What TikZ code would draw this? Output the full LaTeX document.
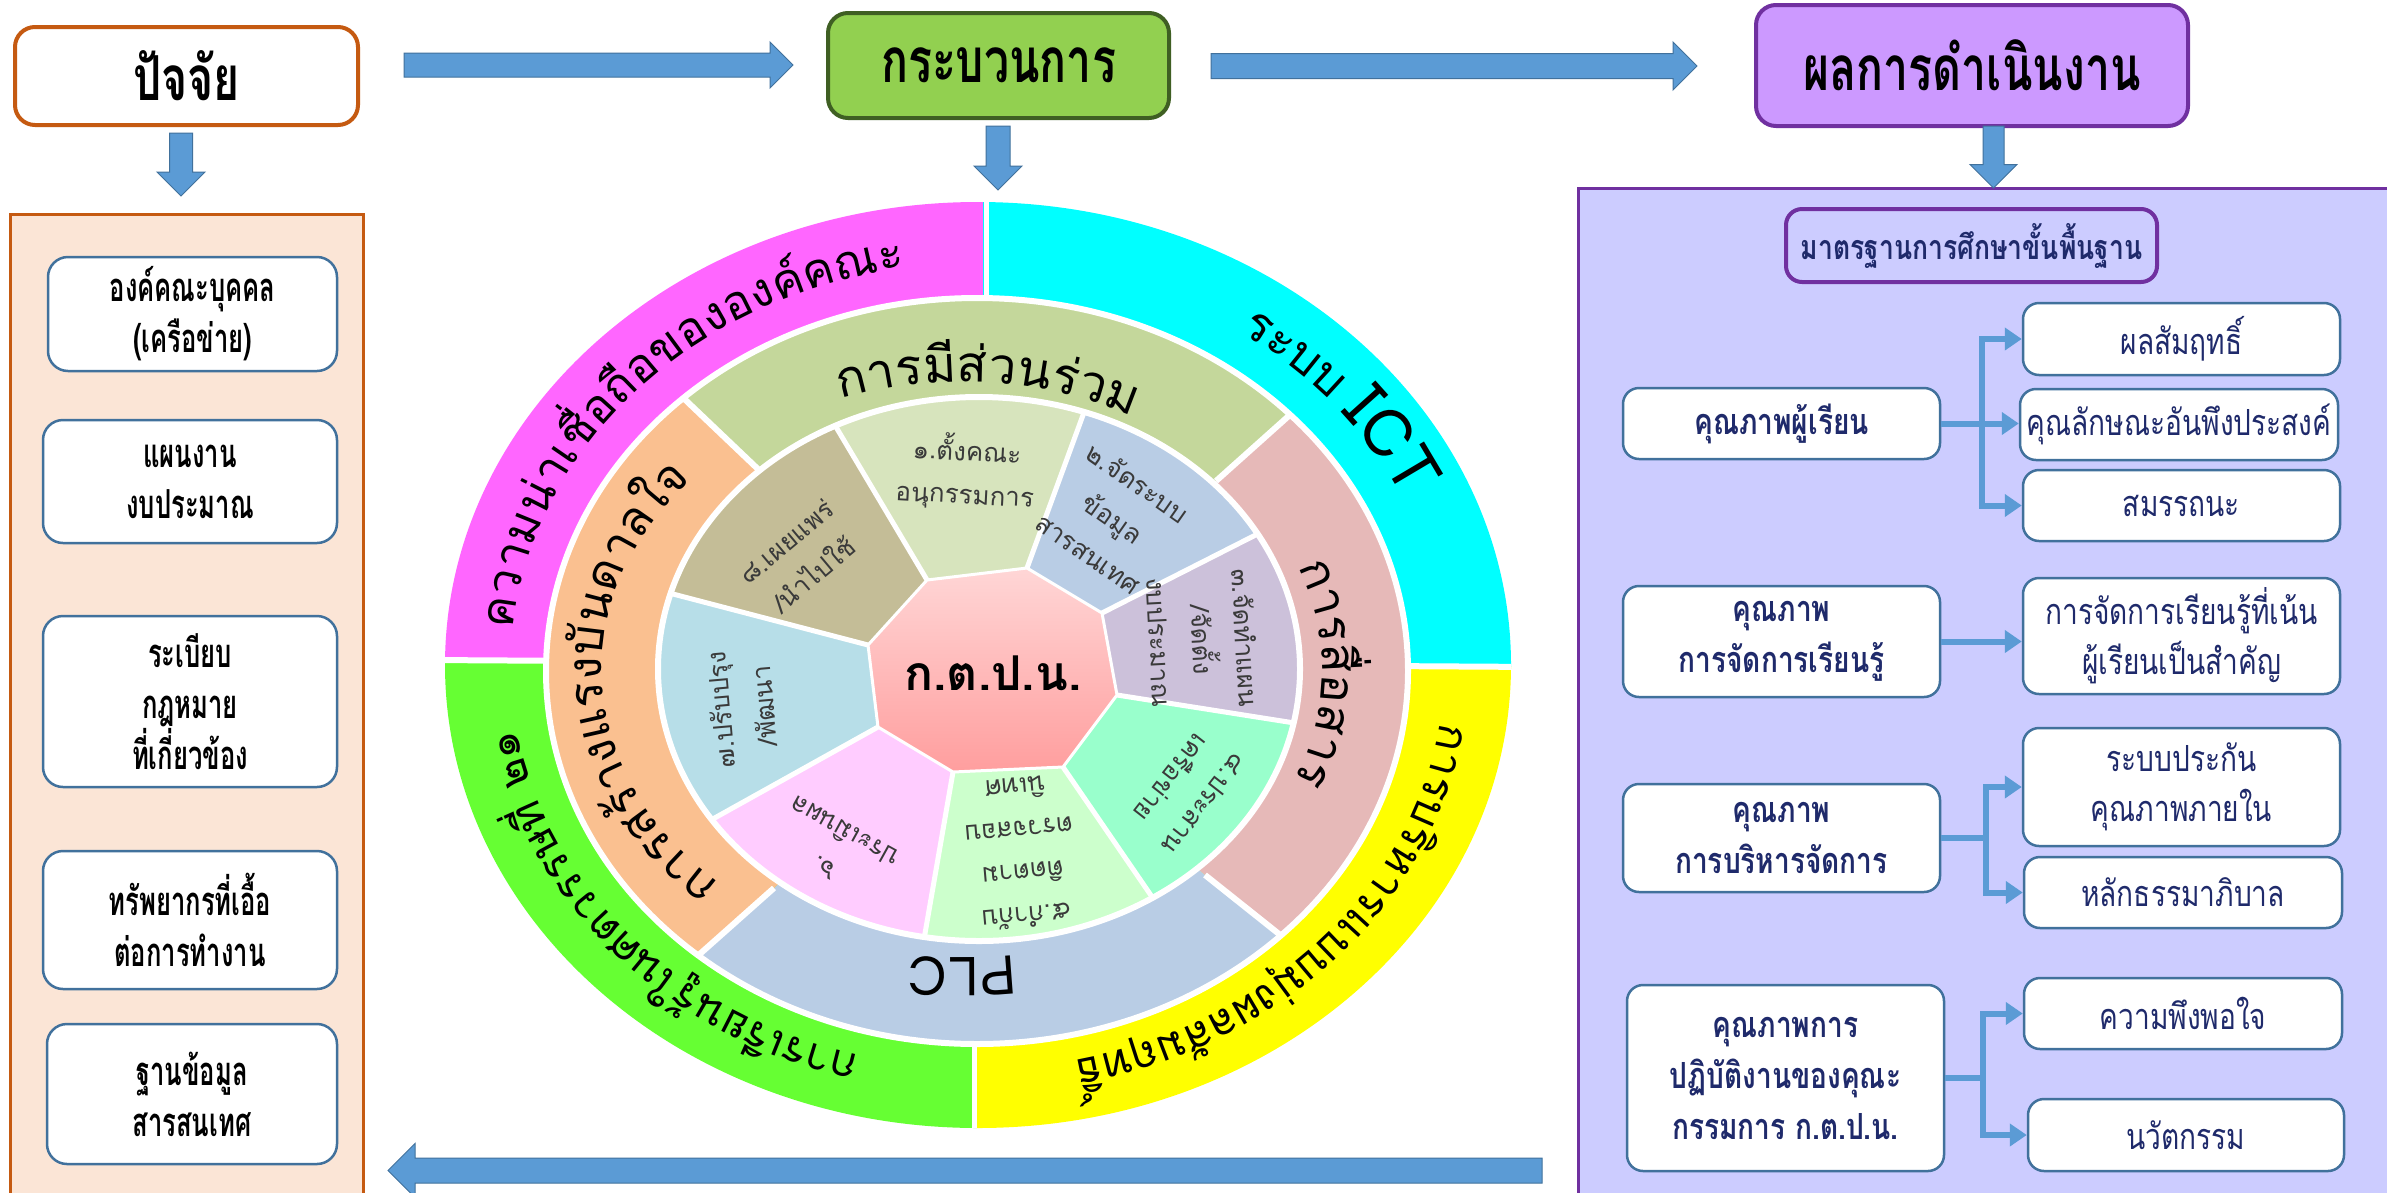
\documentclass[tikz,border=0pt]{standalone}
\usepackage{fontspec}
\setmainfont{Liberation Sans}
\newfontfamily\thw[Script=Thai]{Loma}
\newfontfamily\thh[Script=Thai,FakeStretch=0.72]{Loma}
\newfontfamily\thl[Script=Thai,FakeStretch=0.64]{Loma}
\newfontfamily\thr[Script=Thai,FakeStretch=0.78]{Loma}
\usetikzlibrary{arrows.meta,calc}
\definecolor{arrowfill}{HTML}{5B9BD5}
\definecolor{arrowline}{HTML}{41719C}
\definecolor{orangeline}{HTML}{C55A11}
\definecolor{peach}{HTML}{FBE5D6}
\definecolor{grnfill}{HTML}{92D050}
\definecolor{grnline}{HTML}{3F5F23}
\definecolor{purfill}{HTML}{CC99FF}
\definecolor{purline}{HTML}{7030A0}
\definecolor{lav}{HTML}{CCCCFF}
\definecolor{boxline}{HTML}{41719C}
\definecolor{navy}{HTML}{1F2A6B}
\definecolor{cMag}{HTML}{FF66FF}
\definecolor{cCya}{HTML}{00FFFF}
\definecolor{cGrn}{HTML}{66FF33}
\definecolor{cYel}{HTML}{FFFF00}
\definecolor{mTop}{HTML}{C4D79B}
\definecolor{mRight}{HTML}{E6B9B8}
\definecolor{mBottom}{HTML}{B9CDE5}
\definecolor{mLeft}{HTML}{FAC090}
\definecolor{sA}{HTML}{D7E4BD}
\definecolor{sB}{HTML}{B9CDE5}
\definecolor{sC}{HTML}{CCC1DA}
\definecolor{sD}{HTML}{99FFCC}
\definecolor{sE}{HTML}{CCFFCC}
\definecolor{sF}{HTML}{FFCCFF}
\definecolor{sG}{HTML}{B7DEE8}
\definecolor{sH}{HTML}{C4BD97}
\definecolor{segtxt}{HTML}{3A3A3A}
\definecolor{octtop}{HTML}{FFD6D6}
\definecolor{octbot}{HTML}{FF9E9E}

\newcommand\icf{\fontsize{66}{66}\selectfont}
% cluster lists
\def\magL{ค,ว,า,ม,น่,า,เ,ชื่,อ,ถื,อ,ข,อ,ง,อ,ง,ค์,ค,ณ,ะ}
\def\cyaL{ร,ะ,บ,บ,~,{\icf I},{\icf C},{\icf T}}
\def\grnL{ก,า,ร,เ,รี,ย,น,รู้,ใ,น,ศ,ต,ว,ร,ร,ษ,ที่,~,๒,๑}
\def\yelL{ก,า,ร,บ,ริ,ห,า,ร,แ,บ,บ,มุ่,ง,ผ,ล,สั,ม,ฤ,ท,ธิ์}
\def\mtopL{ก,า,ร,มี,ส่,ว,น,ร่,ว,ม}
\def\mrgtL{ก,า,ร,สื่,อ,ส,า,ร}
\def\mbotL{P,L,C}
\def\mlftL{ก,า,ร,ส,ร้,า,ง,แ,ร,ง,บั,น,ด,า,ล,ใ,จ}
% measure: #1 prefix, #2 font
\newcommand\measure[2]{%
  \gdef\mW{0}%
  \expandafter\let\expandafter\mlist\csname #1L\endcsname
  \foreach \cl [count=\ci] in \mlist {%
    \setbox0=\hbox{#2\cl}%
    \expandafter\xdef\csname w#1@\ci\endcsname{\the\wd0}%
    \pgfmathparse{\mW+\the\wd0}\xdef\mW{\pgfmathresult}%
  }%
  \expandafter\xdef\csname W#1\endcsname{\mW}%
  \expandafter\gdef\csname F#1\endcsname{#2}%
}
% place: #1 cx, #2 cy, #3 a, #4 b, #5 centre angle, #6 prefix
\newcommand\arctext[6]{%
  \pgfmathparse{#5+(\csname W#6\endcsname/2)/(100*sqrt((#3/100*sin(#5))^2+(#4/100*cos(#5))^2))*57.29578}%
  \xdef\att{\pgfmathresult}%
  \expandafter\let\expandafter\mlist\csname #6L\endcsname
  \foreach \cl [count=\ci] in \mlist {%
    \edef\cw{\csname w#6@\ci\endcsname}%
    \pgfmathparse{\cw/(100*sqrt((#3/100*sin(\att))^2+(#4/100*cos(\att))^2))*57.29578}\let\dt\pgfmathresult
    \pgfmathparse{\att-\dt/2}\let\tm\pgfmathresult
    \pgfmathparse{atan2(-#4*cos(\tm),#3*sin(\tm))}\let\rt\pgfmathresult
    \node[rotate=\rt,anchor=base,inner sep=0pt,outer sep=0pt] (#6\ci) at ({#1+#3*cos(\tm)},{#2-#4*sin(\tm)}) {\csname F#6\endcsname\cl};
    \pgfmathparse{\att-\dt}\xdef\att{\pgfmathresult}%
  }%
}
% block arrow: #1 x, #2 y (tail centre), #3 rotation, #4 length, #5 shaft half, #6 head half
\newcommand\barrow[6]{%
  \begin{scope}[shift={(#1,#2)},rotate=#3]
    \draw[blockarr] (0,-#5) -- ({#4-#6},-#5) -- ({#4-#6},-#6) -- (#4,0) -- ({#4-#6},#6) -- ({#4-#6},#5) -- (0,#5) -- cycle;
  \end{scope}}

\tikzset{
  blockarr/.style={fill=arrowfill,draw=arrowline,line width=1pt},
  hdr/.style={rounded corners=20pt,line width=4pt,align=center,inner sep=0pt,font=\thh\bfseries\fontsize{62}{70}\selectfont},
  lbox/.style={rounded corners=20pt,draw=boxline,line width=2.5pt,fill=white,align=center,inner sep=0pt,font=\thl\bfseries\fontsize{40}{51}\selectfont},
  qbox/.style={rounded corners=16pt,draw=boxline,line width=2.5pt,fill=white,align=center,inner sep=0pt,text=navy,font=\thr\bfseries\fontsize{36}{51}\selectfont},
  rbox/.style={qbox,font=\thr\fontsize{36}{50}\selectfont},
  conn/.style={draw=arrowfill,line width=6pt,line join=miter,-{Triangle[length=17pt,width=22pt]}},
  segtext/.style={align=center,text=segtxt,inner sep=0pt,font=\thw\fontsize{26}{43}\selectfont},
  sep/.style={white,line width=5pt},
}

\begin{document}
\measure{mag}{\thw\fontsize{47}{47}\selectfont}%
\measure{cya}{\thw\fontsize{48}{48}\selectfont}%
\measure{grn}{\thw\fontsize{44}{44}\selectfont}%
\measure{yel}{\thw\fontsize{44}{44}\selectfont}%
\measure{mtop}{\thw\fontsize{50}{50}\selectfont}%
\measure{mrgt}{\thw\fontsize{48}{48}\selectfont}%
\measure{mbot}{\thw\fontsize{54}{54}\selectfont}%
\measure{mlft}{\thw\fontsize{48}{48}\selectfont}%
\begin{tikzpicture}[x=1pt,y=-1pt]
\useasboundingbox (0,0) rectangle (2387,1192);
\fill[white] (0,0) rectangle (2387,1192);

% ---------- panels ----------
\draw[orangeline,fill=peach,line width=3pt] (10,214) rectangle (363,1205);
\draw[purline,fill=lav,line width=3pt] (1578,188) rectangle (2400,1205);

% ---------- headers ----------
\node[hdr,draw=orangeline,fill=white,minimum width=343pt,minimum height=98pt] (h1) at (186.5,76) {ปัจจัย};
\node[hdr,draw=grnline,fill=grnfill,minimum width=341pt,minimum height=105pt] (h2) at (998.5,65.5) {กระบวนการ};
\node[hdr,draw=purline,fill=purfill,minimum width=432pt,minimum height=121pt] (h3) at (1972,65.5) {ผลการดำเนินงาน};

% ---------- block arrows ----------
\barrow{404}{65}{0}{389}{12}{23}
\barrow{1211}{66}{0}{486}{12.5}{24}
\barrow{181}{133}{-90}{63}{11.5}{24}
\barrow{998}{126}{-90}{64}{12}{24}
\barrow{1993.5}{126}{-90}{62}{10.5}{23.5}
\barrow{1542}{1170.5}{180}{1154}{12.5}{27}

% ---------- left boxes ----------
\node[lbox,minimum width=289pt,minimum height=114pt] (l1) at (192.5,314) {องค์คณะบุคคล\\(เครือข่าย)};
\node[lbox,minimum width=294pt,minimum height=123pt] (l2) at (190,481.5) {แผนงาน\\งบประมาณ};
\node[lbox,minimum width=294pt,minimum height=171pt] (l3) at (190,701.5) {ระเบียบ\\กฎหมาย\\ที่เกี่ยวข้อง};
\node[lbox,minimum width=294pt,minimum height=138pt] (l4) at (190,920) {ทรัพยากรที่เอื้อ\\ต่อการทำงาน};
\node[lbox,minimum width=290pt,minimum height=140pt] (l5) at (192,1094) {ฐานข้อมูล\\สารสนเทศ};

% ---------- right boxes ----------
\node[qbox,fill=lav,draw=purline,line width=4pt,minimum width=371pt,minimum height=73pt,font=\thr\bfseries\fontsize{34}{40}\selectfont] (std) at (1971.5,245.5) {มาตรฐานการศึกษาขั้นพื้นฐาน};
\node[qbox,minimum width=317pt,minimum height=71pt] (q1) at (1781.5,423.5) {คุณภาพผู้เรียน};
\node[rbox,minimum width=317pt,minimum height=72pt] (r11) at (2181.5,339) {ผลสัมฤทธิ์};
\node[rbox,minimum width=318pt,minimum height=71pt] (r12) at (2179,424.5) {คุณลักษณะอันพึงประสงค์};
\node[rbox,minimum width=317pt,minimum height=71pt] (r13) at (2181.5,505.5) {สมรรถนะ};
\node[qbox,minimum width=317pt,minimum height=111pt] (q2) at (1781.5,641.5) {คุณภาพ\\การจัดการเรียนรู้};
\node[rbox,minimum width=317pt,minimum height=116pt] (r21) at (2181.5,636) {การจัดการเรียนรู้ที่เน้น\\ผู้เรียนเป็นสำคัญ};
\node[qbox,minimum width=317pt,minimum height=108pt] (q3) at (1781.5,838) {คุณภาพ\\การบริหารจัดการ};
\node[rbox,minimum width=317pt,minimum height=118pt] (r31) at (2181.5,787) {ระบบประกัน\\คุณภาพภายใน};
\node[rbox,minimum width=318pt,minimum height=71pt] (r32) at (2183,892.5) {หลักธรรมาภิบาล};
\node[qbox,minimum width=317pt,minimum height=186pt] (q4) at (1785.5,1078) {คุณภาพการ\\ปฏิบัติงานของคุณะ\\กรรมการ ก.ต.ป.น.};
\node[rbox,minimum width=318pt,minimum height=71pt] (r41) at (2183,1013.5) {ความพึงพอใจ};
\node[rbox,minimum width=316pt,minimum height=72pt] (r42) at (2186,1135) {นวัตกรรม};

% ---------- connectors ----------
\draw[conn] (q1.east) -- ++(41,0) |- (r11.west);
\draw[conn] (q1.east) -- ++(41,0) |- (r13.west);
\draw[conn] (q1.east) -- (q1.east -| r12.west);
\draw[conn] (q2.east) -- (q2.east -| r21.west);
\draw[conn] (q3.east) -- ++(45,0) |- (r31.west);
\draw[conn] (q3.east) -- ++(45,0) |- (r32.west);
\draw[conn] (q4.east) -- ++(38,0) |- (r41.west);
\draw[conn] (q4.east) -- ++(38,0) |- (r42.west);

% ---------- wheel: outer ring ----------
\begin{scope}
  \clip (978,665) ellipse [x radius=533, y radius=463];
  \fill[cMag] (400,150) rectangle (983,664);
  \fill[cCya] (983,150) rectangle (1560,667);
  \fill[cGrn] (400,662) rectangle (977,1150);
  \fill[cYel] (977,666) rectangle (1560,1150);
  \draw[sep,line width=6pt] (430,660) -- (1540,667);
  \draw[sep] (986,180) -- (986,663);
  \draw[sep] (974,663) -- (974,1150);
\end{scope}

% ---------- wheel: middle ring ----------
\coordinate (mC) at (980,685);
\coordinate (iNW) at (760,471); \coordinate (fNW) at (465,190);
\coordinate (iNE) at (1216,481); \coordinate (fNE) at (1482,243);
\coordinate (iSE) at (1205,875); \coordinate (fSE) at (1486,1099);
\coordinate (iSW) at (774,888); \coordinate (fSW) at (521,1113);
\begin{scope}
  \clip (977,671) ellipse [x radius=431, y radius=373];
  \fill[mTop] (mC) -- (iNW) -- (fNW) -- (fNE) -- (iNE) -- cycle;
  \fill[mRight] (mC) -- (iNE) -- (fNE) -- (fSE) -- (iSE) -- cycle;
  \fill[mBottom] (mC) -- (iSE) -- (fSE) -- (fSW) -- (iSW) -- cycle;
  \fill[mLeft] (mC) -- (iSW) -- (fSW) -- (fNW) -- (iNW) -- cycle;
  \foreach \p in {NW,NE,SE,SW} \draw[sep,line width=6pt] (i\p) -- (f\p);
\end{scope}
\draw[sep,line width=6pt] (977,671) ellipse [x radius=431, y radius=373];

% ---------- wheel: inner ring ----------
\coordinate (O) at (992,671);
\coordinate (V1) at (927,580);  \coordinate (F1) at (657,126);
\coordinate (V2) at (1027,568); \coordinate (F2) at (1194,112);
\coordinate (V3) at (1102,613); \coordinate (F3) at (1549,386);
\coordinate (V4) at (1117,695); \coordinate (F4) at (1656,780);
\coordinate (V5) at (1063,767); \coordinate (F5) at (1320,1142);
\coordinate (V6) at (953,772);  \coordinate (F6) at (867,1268);
\coordinate (V7) at (878,727);  \coordinate (F7) at (386,1001);
\coordinate (V8) at (868,645);  \coordinate (F8) at (279,491);
\begin{scope}
  \clip (979,669) ellipse [x radius=321, y radius=272];
  \fill[sA] (O) -- (V1) -- (F1) -- (F2) -- (V2) -- cycle;
  \fill[sB] (O) -- (V2) -- (F2) -- (F3) -- (V3) -- cycle;
  \fill[sC] (O) -- (V3) -- (F3) -- (F4) -- (V4) -- cycle;
  \fill[sD] (O) -- (V4) -- (F4) -- (F5) -- (V5) -- cycle;
  \fill[sE] (O) -- (V5) -- (F5) -- (F6) -- (V6) -- cycle;
  \fill[sF] (O) -- (V6) -- (F6) -- (F7) -- (V7) -- cycle;
  \fill[sG] (O) -- (V7) -- (F7) -- (F8) -- (V8) -- cycle;
  \fill[sH] (O) -- (V8) -- (F8) -- (F1) -- (V1) -- cycle;
  \foreach \i in {1,...,8} \draw[sep] (V\i) -- (F\i);
\end{scope}
\draw[sep,line width=6pt] (979,669) ellipse [x radius=321, y radius=272];

% octagon
\shade[top color=octtop,bottom color=octbot] (V1) -- (V2) -- (V3) -- (V4) -- (V5) -- (V6) -- (V7) -- (V8) -- cycle;
\draw[white,line width=3pt,line join=round] (V1) -- (V2) -- (V3) -- (V4) -- (V5) -- (V6) -- (V7) -- (V8) -- cycle;
\node[font=\thw\bfseries\fontsize{48}{48}\selectfont,inner sep=0pt] (ktpn) at (993,673) {ก.ต.ป.น.};

% ---------- inner segment texts ----------
\node[segtext,rotate=-3] (t1) at (966,472) {๑.ตั้งคณะ\\อนุกรรมการ};
\node[segtext,rotate=-35] (t2) at (1113,518) {๒.จัดระบบ\\ข้อมูล\\สารสนเทศ};
\node[segtext,rotate=-87] (t3) at (1203,640) {๓.จัดทำแผน\\/จัดตั้ง\\งบประมาณ};
\node[segtext,rotate=-128] (t4) at (1188,791) {๔.ประสาน\\เครือข่าย};
\node[segtext,rotate=185] (t5) at (1021,853) {๕.กำกับ\\ติดตาม\\ตรวจสอบ\\นิเทศ};
\node[segtext,rotate=151] (t6) at (835,849) {๖.\\ประเมินผล};
\node[segtext,rotate=95] (t7) at (742,708) {๗.ปรับปรุง\\/พัฒนา};
\node[segtext,rotate=40] (t8) at (800,558) {๘.เผยแพร่\\/นำไปใช้};

% ---------- curved ring texts ----------
\arctext{978}{666}{467}{403}{137}{mag}
\arctext{978}{666}{467}{403}{40}{cya}
\arctext{978}{666}{467}{403}{222}{grn}
\arctext{978}{666}{467}{403}{-43}{yel}
\arctext{962}{670}{360}{288}{86}{mtop}
\arctext{962}{670}{360}{288}{-1}{mrgt}
\arctext{962}{670}{360}{288}{-90}{mbot}
\arctext{962}{670}{360}{288}{181}{mlft}
\end{tikzpicture}
\end{document}
